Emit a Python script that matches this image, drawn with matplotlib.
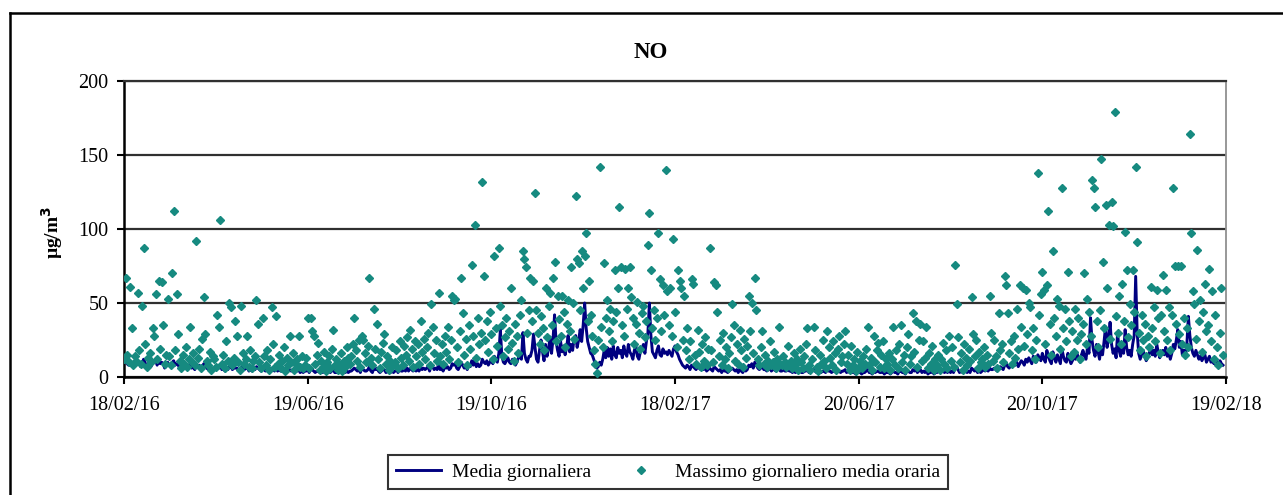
import numpy as np
import matplotlib
matplotlib.use("Agg")
import matplotlib.pyplot as plt
import matplotlib.dates as mdates
from matplotlib.lines import Line2D

plt.rcParams['font.family'] = ['Liberation Serif', 'DejaVu Serif']

# daily values from 18/02/2016, one per day
start_date = '2016-02-18'
end_date = '2018-02-19'

# Massimo giornaliero media oraria (ug/m3)
massimo = [
    12, 67, 15, 10, 61, 33, 8, 14, 11, 57, 18, 9, 48, 87, 22, 7, 13, 16, 10, 33, 28, 56, 12, 65, 19, 64, 35, 9, 15, 53,
    14, 8, 70, 112, 18, 56, 29, 11, 6, 15, 9, 20, 7, 12, 34, 10, 16, 8, 92, 13, 19, 6, 26, 54, 29, 11, 8, 17, 5, 14,
    12, 7, 42, 34, 106, 9, 15, 6, 24, 11, 50, 47, 8, 13, 38, 28, 10, 5, 48, 16, 9, 12, 28, 7, 18, 6, 11, 14, 52, 36,
    10, 6, 40, 14, 8, 18, 5, 12, 47, 22, 7, 41, 9, 15, 6, 11, 20, 4, 13, 8, 28, 10, 16, 5, 9, 12, 28, 7, 14, 6,
    8, 13, 40, 6, 40, 31, 28, 9, 15, 23, 5, 11, 7, 17, 4, 10, 14, 6, 19, 32, 8, 12, 5, 9, 16, 4, 11, 7, 20, 13,
    9, 14, 22, 40, 18, 11, 25, 7, 28, 25, 16, 10, 21, 67, 13, 8, 46, 19, 36, 12, 6, 17, 23, 29, 9, 14, 5, 11, 20, 8,
    10, 18, 6, 24, 13, 8, 21, 15, 27, 11, 32, 19, 7, 24, 14, 22, 9, 38, 17, 26, 12, 20, 30, 8, 49, 34, 16, 25, 11, 57,
    14, 22, 9, 28, 17, 34, 12, 25, 55, 52, 53, 20, 10, 31, 67, 43, 15, 26, 8, 35, 19, 76, 28, 103, 13, 40, 22, 30, 132, 68,
    25, 38, 17, 44, 29, 12, 82, 33, 21, 87, 48, 35, 14, 27, 40, 19, 31, 60, 23, 11, 36, 28, 16, 42, 52, 85, 80, 74, 30, 45,
    67, 38, 65, 124, 45, 30, 22, 41, 33, 18, 60, 27, 48, 57, 35, 67, 78, 24, 55, 39, 28, 55, 44, 20, 36, 52, 31, 74, 50, 26,
    122, 80, 77, 45, 85, 60, 82, 97, 38, 65, 42, 28, 18, 9, 3, 25, 142, 34, 20, 77, 40, 52, 31, 46, 24, 38, 72, 44, 60, 115,
    74, 35, 28, 73, 46, 60, 74, 54, 40, 22, 36, 51, 30, 19, 43, 48, 27, 38, 89, 111, 72, 33, 45, 25, 40, 97, 66, 31, 62, 42,
    140, 58, 35, 60, 28, 93, 44, 20, 72, 65, 60, 25, 55, 18, 33, 12, 24, 66, 63, 15, 9, 32, 17, 7, 22, 11, 27, 8, 19, 87,
    18, 10, 64, 62, 44, 14, 25, 8, 30, 12, 20, 6, 16, 27, 49, 35, 11, 22, 9, 32, 18, 7, 26, 13, 21, 55, 31, 50, 16, 67,
    45, 12, 8, 20, 31, 9, 15, 7, 11, 24, 8, 10, 17, 6, 12, 34, 9, 8, 14, 10, 7, 21, 9, 11, 6, 16, 8, 12, 5, 19,
    10, 6, 14, 22, 33, 8, 5, 12, 34, 18, 7, 4, 15, 9, 25, 11, 6, 31, 20, 13, 8, 24, 16, 5, 19, 28, 10, 14, 22, 31,
    9, 15, 5, 21, 8, 12, 4, 17, 7, 11, 6, 14, 9, 19, 34, 8, 13, 5, 28, 10, 18, 23, 7, 15, 24, 6, 12, 9, 16, 5,
    12, 34, 8, 18, 6, 22, 35, 10, 15, 5, 20, 29, 9, 14, 43, 17, 38, 7, 25, 36, 11, 24, 13, 34, 6, 16, 9, 21, 5, 12,
    8, 15, 5, 12, 23, 9, 18, 6, 28, 11, 20, 7, 76, 49, 27, 10, 16, 5, 22, 13, 8, 19, 11, 54, 29, 14, 25, 6, 17, 10,
    12, 20, 7, 15, 9, 55, 30, 11, 25, 14, 6, 43, 18, 22, 10, 68, 62, 43, 16, 24, 9, 28, 13, 46, 19, 62, 34, 60, 21, 59,
    29, 50, 47, 18, 33, 12, 25, 138, 42, 56, 71, 59, 22, 62, 112, 36, 15, 85, 40, 28, 53, 48, 19, 128, 33, 46, 24, 71, 38, 14,
    31, 17, 46, 25, 40, 12, 29, 36, 70, 22, 53, 44, 28, 133, 128, 115, 38, 20, 45, 147, 78, 33, 116, 60, 103, 26, 118, 102, 179, 41,
    30, 55, 22, 63, 38, 98, 72, 27, 49, 35, 72, 44, 142, 91, 30, 18, 42, 25, 36, 14, 28, 20, 61, 33, 47, 24, 59, 40, 16, 42,
    69, 31, 59, 25, 47, 18, 42, 128, 75, 36, 75, 29, 75, 22, 40, 15, 33, 20, 164, 97, 58, 49, 26, 86, 38, 52, 17, 44, 63, 31,
    35, 73, 24, 58, 12, 42, 20, 8, 30, 60, 15,
]

# Media giornaliera (ug/m3)
media = [
    10, 12, 9, 8, 11, 10, 7, 9, 8, 11, 10, 7, 9, 12, 10, 6, 8, 9, 7, 10, 11, 12, 8, 11, 9, 10, 9, 6, 8, 10,
    8, 7, 10, 11, 8, 9, 8, 6, 5, 7, 6, 8, 5, 6, 8, 6, 7, 5, 9, 7, 8, 5, 7, 9, 8, 6, 5, 7, 4, 6,
    6, 5, 7, 6, 8, 5, 6, 4, 6, 5, 7, 7, 5, 6, 6, 6, 5, 4, 7, 5, 5, 6, 6, 4, 5, 4, 5, 5, 7, 6,
    5, 4, 6, 5, 4, 5, 4, 5, 6, 5, 4, 6, 4, 5, 4, 4, 5, 3, 4, 4, 5, 4, 5, 3, 4, 4, 5, 3, 4, 3,
    4, 4, 5, 3, 5, 5, 4, 3, 4, 4, 3, 4, 3, 4, 3, 3, 4, 3, 4, 5, 3, 3, 3, 3, 4, 3, 3, 3, 4, 3,
    4, 4, 5, 6, 5, 4, 5, 3, 6, 5, 4, 4, 5, 7, 4, 3, 6, 5, 6, 4, 3, 4, 5, 5, 3, 4, 3, 3, 4, 3,
    4, 5, 3, 5, 4, 4, 5, 4, 6, 4, 6, 5, 4, 5, 4, 5, 4, 7, 5, 6, 5, 6, 7, 4, 8, 7, 5, 6, 5, 9,
    5, 6, 4, 7, 6, 7, 5, 6, 9, 8, 9, 6, 5, 7, 10, 8, 6, 7, 5, 8, 7, 11, 8, 12, 7, 9, 7, 8, 12, 10,
    9, 11, 8, 10, 12, 9, 14, 12, 10, 16, 32, 14, 10, 9, 11, 13, 10, 9, 12, 11, 8, 10, 13, 15, 12, 30, 16, 12, 10, 14,
    14, 18, 29, 20, 12, 10, 18, 25, 17, 11, 22, 14, 19, 27, 16, 26, 42, 24, 18, 14, 24, 17, 21, 15, 20, 28, 17, 22, 18, 26,
    28, 20, 25, 32, 24, 35, 50, 33, 24, 20, 16, 15, 12, 9, 6, 7, 10, 8, 12, 18, 13, 20, 14, 19, 12, 21, 15, 13, 20, 16,
    18, 13, 21, 16, 14, 22, 17, 15, 12, 18, 21, 14, 12, 17, 19, 22, 16, 24, 30, 50, 28, 17, 15, 13, 18, 21, 15, 14, 19, 16,
    17, 15, 18, 16, 14, 19, 21, 17, 15, 12, 10, 8, 7, 6, 8, 7, 5, 8, 7, 6, 5, 7, 6, 5, 6, 5, 7, 4, 5, 6,
    5, 4, 7, 6, 5, 4, 5, 3, 5, 4, 4, 3, 4, 5, 6, 5, 4, 5, 3, 5, 4, 3, 5, 4, 5, 8, 7, 9, 6, 10,
    8, 6, 5, 6, 7, 5, 5, 4, 5, 6, 4, 5, 5, 4, 5, 6, 4, 4, 5, 4, 4, 5, 4, 4, 3, 4, 3, 4, 3, 4,
    3, 3, 4, 4, 5, 3, 3, 4, 5, 4, 3, 3, 4, 3, 4, 4, 3, 5, 4, 4, 3, 4, 4, 3, 4, 4, 3, 4, 4, 5,
    3, 4, 3, 4, 3, 3, 2, 4, 3, 3, 2, 3, 3, 4, 5, 3, 3, 2, 4, 3, 4, 4, 3, 3, 4, 2, 3, 3, 3, 2,
    3, 4, 3, 3, 2, 4, 4, 3, 3, 2, 4, 4, 3, 3, 5, 4, 5, 3, 4, 5, 3, 4, 3, 5, 2, 3, 3, 4, 2, 3,
    3, 4, 3, 4, 4, 3, 4, 3, 5, 3, 4, 3, 6, 7, 5, 3, 4, 3, 4, 4, 3, 4, 3, 6, 5, 4, 5, 3, 4, 3,
    4, 5, 4, 5, 4, 6, 5, 5, 6, 5, 4, 6, 7, 6, 5, 8, 9, 7, 6, 8, 7, 9, 8, 10, 7, 9, 11, 10, 8, 12,
    10, 13, 11, 9, 14, 12, 10, 15, 13, 11, 16, 12, 10, 18, 14, 11, 9, 17, 13, 10, 15, 12, 9, 19, 14, 11, 10, 16, 12, 9,
    11, 14, 12, 16, 13, 10, 15, 18, 14, 12, 20, 16, 40, 25, 18, 14, 22, 17, 12, 20, 15, 24, 34, 20, 26, 37, 22, 16, 19, 13,
    30, 18, 14, 22, 16, 32, 20, 15, 18, 14, 22, 28, 68, 30, 16, 12, 15, 18, 14, 11, 13, 16, 20, 15, 18, 14, 22, 17, 13, 16,
    18, 15, 20, 14, 17, 12, 16, 22, 19, 25, 32, 20, 24, 15, 18, 13, 22, 41, 28, 20, 16, 14, 18, 15, 12, 14, 11, 13, 15, 10,
    12, 14, 10, 11, 9, 13, 10, 8, 11, 9, 8,
]

dates = np.datetime64(start_date) + np.arange(len(massimo))
tick_dates = np.arange(np.datetime64(start_date), np.datetime64(end_date) + 1, 122)

fig = plt.figure(figsize=(12.83, 4.95), dpi=100)
ax = fig.add_axes([124 / 1283, 1 - 377 / 495, 1102 / 1283, 296 / 495])

ax.plot(dates, media, color='#000080', lw=2.1, label='Media giornaliera', zorder=3)
ax.plot(dates, massimo, ls='none', marker='D', ms=4.4, color='#168a80', mec='#168a80',
        label='Massimo giornaliero media oraria', zorder=4)

ax.set_xlim(np.datetime64(start_date), np.datetime64(end_date))
ax.set_ylim(0, 200)
ax.set_yticks([0, 50, 100, 150, 200])
ax.set_xticks(tick_dates)
ax.xaxis.set_major_formatter(mdates.DateFormatter('%d/%m/%y'))
ax.yaxis.grid(True, color='#303030', lw=1.6)
ax.set_axisbelow(True)

for s in ['left', 'bottom']:
    ax.spines[s].set_color('black')
    ax.spines[s].set_linewidth(1.8)
ax.spines['right'].set_color('#909090')
ax.spines['right'].set_linewidth(1.3)
ax.spines['top'].set_color('#303030')
ax.spines['top'].set_linewidth(1.6)
ax.tick_params(axis='both', direction='out', length=5, width=1.5, labelsize=14.5, pad=6)
ax.tick_params(axis='x', pad=9)

fig.text(651 / 1283, 1 - 52 / 495, 'NO', ha='center', va='center', fontsize=16.5, fontweight='bold')
fig.text(52 / 1283, 1 - 232 / 495, 'µg/m$^\\mathbf{3}$', ha='center', va='center', rotation=90,
         fontsize=14, fontweight='bold')

leg = ax.legend(loc='center', bbox_to_anchor=(668 / 1283, 1 - 472 / 495), bbox_transform=fig.transFigure,
                ncol=2, fontsize=14, frameon=True, fancybox=False, edgecolor='black',
                handlelength=2.3, columnspacing=1.4, borderpad=0.4, handletextpad=0.6)
leg.get_frame().set_linewidth(1.5)

# outer chart border
fig.add_artist(Line2D([10 / 1283, 10 / 1283], [0, 1 - 13 / 495], transform=fig.transFigure, color='black', lw=1.8))
fig.add_artist(Line2D([10 / 1283, 1], [1 - 13 / 495, 1 - 13 / 495], transform=fig.transFigure, color='black', lw=1.8))

fig.savefig('out.png', dpi=100)
